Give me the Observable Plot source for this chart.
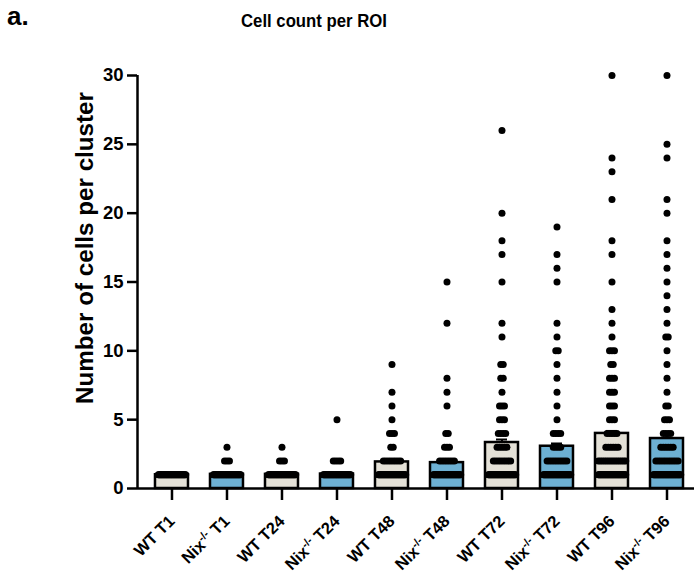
<!DOCTYPE html>
<html>
<head>
<meta charset="utf-8">
<script src="https://cdn.jsdelivr.net/npm/d3@7"></script>
<script src="https://cdn.jsdelivr.net/npm/@observablehq/plot@0.6"></script>
<style>
  html, body { margin: 0; padding: 0; background: #fff; }
  #chart { position: relative; width: 698px; height: 576px; }
</style>
</head>
<body>
<div id="chart"></div>
<script>
// ---- data ----
const groups = ["WT T1", "Nix-/- T1", "WT T24", "Nix-/- T24", "WT T48", "Nix-/- T48", "WT T72", "Nix-/- T72", "WT T96", "Nix-/- T96"];
const genotype = ["WT", "Nix", "WT", "Nix", "WT", "Nix", "WT", "Nix", "WT", "Nix"];
const means = [1.0, 1.03, 1.03, 1.05, 1.93, 1.88, 3.34, 3.07, 4.0, 3.63];
const sems  = [0.0, 0.03, 0.03, 0.05, 0.12, 0.12, 0.22, 0.2, 0.18, 0.25];
// observed point values and how many points sit at each value
const pointValues = [
  [1],
  [1, 2, 3],
  [1, 2, 3],
  [1, 2, 5],
  [1, 2, 3, 4, 5, 6, 7, 9],
  [1, 2, 3, 4, 6, 7, 8, 12, 15],
  [1, 2, 3, 4, 5, 6, 7, 8, 9, 11, 12, 15, 17, 18, 20, 26],
  [1, 2, 3, 4, 5, 6, 7, 8, 9, 10, 11, 12, 15, 16, 17, 19],
  [1, 2, 3, 4, 5, 6, 7, 8, 9, 10, 11, 12, 13, 15, 17, 18, 21, 23, 24, 30],
  [1, 2, 3, 4, 5, 6, 7, 8, 9, 10, 11, 12, 13, 14, 15, 16, 17, 18, 20, 21, 24, 25, 30]
];
const pointCounts = [
  [40],
  [40, 3, 1],
  [40, 3, 1],
  [40, 4, 1],
  [40, 8, 2, 3, 1, 1, 1, 1],
  [40, 7, 3, 2, 1, 1, 1, 1, 1],
  [40, 8, 5, 4, 3, 3, 1, 2, 2, 1, 1, 1, 1, 1, 1, 1],
  [40, 9, 4, 4, 1, 1, 1, 1, 1, 2, 1, 1, 1, 1, 1, 1],
  [40, 14, 6, 5, 3, 3, 3, 3, 2, 3, 1, 1, 1, 1, 1, 1, 1, 1, 1, 1],
  [40, 10, 6, 4, 3, 2, 1, 1, 1, 1, 2, 1, 1, 1, 1, 1, 1, 1, 1, 1, 1, 1, 1]
];
const yTicks = [0, 5, 10, 15, 20, 25, 30];
const colors = {WT: "#e4e1d7", Nix: "#6db0d3"};

// ---- build tables ----
const bars = groups.map((g, i) => ({i, g, mean: means[i], sem: sems[i], geno: genotype[i]}));
const points = [];
const spacing = 0.045, maxHalf = 0.25;
groups.forEach((g, i) => {
  pointValues[i].forEach((v, k) => {
    const n = pointCounts[i][k];
    const half = Math.min(maxHalf, (n - 1) * spacing / 2);
    for (let j = 0; j < n; j++) {
      const off = n === 1 ? 0 : -half + (2 * half) * j / (n - 1);
      points.push({x: i + off, y: v});
    }
  });
});

const xMin = -0.627, xMax = 9.5;
const font = "'Liberation Sans', Arial, Helvetica, sans-serif";

const plot = Plot.plot({
  width: 698,
  height: 576,
  marginTop: 75,
  marginBottom: 88,
  marginLeft: 137,
  marginRight: 4,
  style: {fontFamily: font, fontWeight: "bold", fontSize: "15px", color: "#000", background: "#fff"},
  x: {domain: [xMin, xMax], axis: null},
  y: {domain: [0, 30], axis: null},
  marks: [
    Plot.rectY(bars, {x1: d => d.i - 0.3, x2: d => d.i + 0.3, y1: 0, y2: "mean", fill: d => colors[d.geno], stroke: "#000", strokeWidth: 2.5}),
    Plot.ruleX(bars, {x: "i", y1: "mean", y2: d => d.mean + d.sem, stroke: "#000", strokeWidth: 2}),
    Plot.ruleY(bars.filter(d => d.sem > 0.05), {y: d => d.mean + d.sem, x1: d => d.i - 0.1, x2: d => d.i + 0.1, stroke: "#000", strokeWidth: 2}),
    Plot.dot(points, {x: "x", y: "y", r: 3.5, fill: "#000", stroke: "none"}),
    Plot.ruleY([0], {stroke: "#000", strokeWidth: 2.5}),
    Plot.ruleX([xMin], {y1: 0, y2: 30, stroke: "#000", strokeWidth: 2.5}),
    Plot.axisY({ticks: yTicks, tickSize: 10, tickPadding: 4, strokeWidth: 2.5, fontSize: 18.5, fontWeight: "bold", label: null, anchor: "left"}),
    Plot.axisX({ticks: d3.range(groups.length), tickFormat: i => groups[i], tickSize: 12, tickPadding: 18, strokeWidth: 2.5, tickRotate: -45, fontSize: 16.5, fontWeight: "bold", label: null, anchor: "bottom"})
  ]
});

document.getElementById("chart").appendChild(plot);
const svg = d3.select(plot);

// superscripts in Nix-/- labels
svg.selectAll('g[aria-label="x-axis tick label"] text').each(function() {
  const t = this.textContent;
  if (t.includes("-/-")) {
    const rest = t.split("-/-");
    const el = d3.select(this);
    el.text(null);
    el.append("tspan").text(rest[0]);
    el.append("tspan").attr("dy", "-6").attr("font-size", "11px").text("-/-");
    el.append("tspan").attr("dy", "6").text(rest[1]);
  }
});

// y axis title
svg.append("text")
  .attr("transform", "translate(93,248) rotate(-90)")
  .attr("text-anchor", "middle")
  .attr("font-family", font).attr("font-weight", "bold").attr("font-size", "23px")
  .attr("textLength", 312).attr("lengthAdjust", "spacingAndGlyphs")
  .text("Number of cells per cluster");

// panel letter and title
svg.append("text").attr("x", 7).attr("y", 25).attr("text-anchor", "start")
  .attr("font-family", font).attr("font-weight", "bold").attr("font-size", "26px")
  .text("a.");
svg.append("text").attr("x", 314).attr("y", 27).attr("text-anchor", "middle")
  .attr("font-family", font).attr("font-weight", "bold").attr("font-size", "19px")
  .attr("textLength", 146).attr("lengthAdjust", "spacingAndGlyphs")
  .text("Cell count per ROI");
</script>
</body>
</html>
